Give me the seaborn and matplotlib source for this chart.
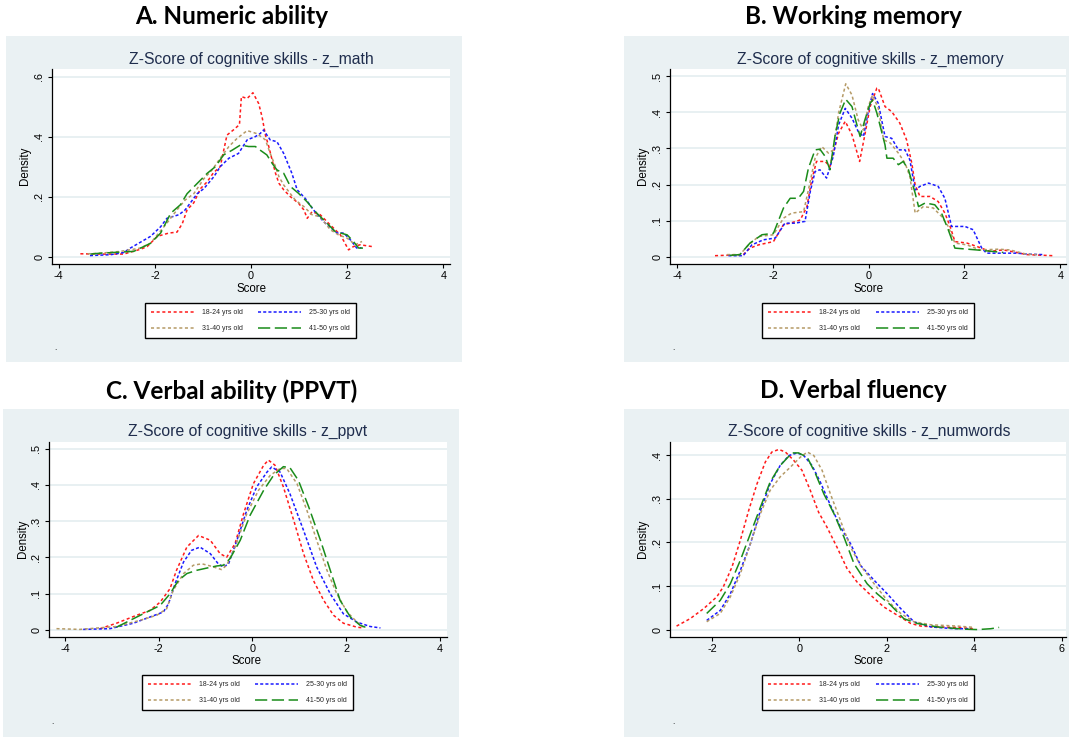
import numpy as np
import pandas as pd
import matplotlib
matplotlib.use("Agg")
import matplotlib.pyplot as plt
from matplotlib.patches import Rectangle
from matplotlib.lines import Line2D
import seaborn as sns

W, H = 1069, 737

groups = ["18-24 yrs old", "25-30 yrs old", "31-40 yrs old", "41-50 yrs old"]
panel_titles = ["A. Numeric ability", "B. Working memory",
                "C. Verbal ability (PPVT)", "D. Verbal fluency"]
inner_titles = ["Z-Score of cognitive skills - z_math",
                "Z-Score of cognitive skills - z_memory",
                "Z-Score of cognitive skills - z_ppvt",
                "Z-Score of cognitive skills - z_numwords"]
x_label = "Score"
y_label = "Density"

# ---------------- Panel A : z_math ----------------
A_x_1824 = [-3.55,-3.13,-2.65,-2.30,-2.16,-1.95,-1.71,-1.54,-1.43,-1.33,-1.19,-1.05,-0.91,-0.78,-0.64,-0.50,-0.36,-0.24,-0.20,-0.08,0.04,0.16,0.23,0.30,0.37,0.44,0.51,0.58,0.68,0.82,0.99,1.10,1.17,1.27,1.44,1.58,1.72,1.86,2.03,2.13,2.27,2.52]
A_y_1824 = [0.010,0.009,0.009,0.025,0.034,0.068,0.079,0.082,0.110,0.156,0.180,0.227,0.250,0.280,0.300,0.405,0.423,0.440,0.533,0.527,0.546,0.510,0.466,0.405,0.367,0.322,0.278,0.245,0.223,0.200,0.178,0.156,0.128,0.150,0.140,0.117,0.095,0.073,0.023,0.034,0.040,0.034]
A_x_2530 = [-3.35,-2.92,-2.65,-2.51,-2.09,-1.88,-1.75,-1.50,-1.37,-1.12,-0.98,-0.77,-0.64,-0.46,-0.26,-0.08,0.09,0.19,0.26,0.40,0.54,0.68,0.85,0.96,1.13,1.30,1.51,1.79,1.93,2.07,2.20,2.30]
A_y_2530 = [0.004,0.007,0.014,0.029,0.068,0.100,0.128,0.140,0.156,0.210,0.227,0.267,0.300,0.328,0.344,0.389,0.400,0.410,0.422,0.389,0.383,0.344,0.278,0.223,0.194,0.156,0.117,0.079,0.079,0.056,0.029,0.030]
A_x_3140 = [-3.40,-3.13,-2.72,-2.30,-2.09,-1.92,-1.75,-1.54,-1.37,-1.19,-0.98,-0.81,-0.64,-0.46,-0.29,-0.08,0.12,0.30,0.40,0.51,0.58,0.68,0.92,1.10,1.27,1.44,1.65,1.82,2.00,2.17,2.31]
A_y_3140 = [0.010,0.012,0.018,0.029,0.045,0.079,0.112,0.156,0.189,0.210,0.260,0.289,0.328,0.367,0.394,0.420,0.410,0.389,0.344,0.300,0.267,0.239,0.189,0.167,0.140,0.133,0.090,0.073,0.062,0.040,0.051]
A_x_4150 = [-3.34,-3.13,-2.44,-2.09,-1.88,-1.67,-1.47,-1.33,-1.12,-0.91,-0.74,-0.57,-0.39,-0.22,-0.05,0.09,0.19,0.33,0.44,0.54,0.68,0.82,0.99,1.16,1.37,1.58,1.75,2.00,2.13,2.24,2.35]
A_y_4150 = [0.009,0.012,0.018,0.045,0.079,0.145,0.173,0.210,0.244,0.278,0.300,0.339,0.355,0.372,0.367,0.367,0.355,0.339,0.311,0.289,0.278,0.234,0.211,0.184,0.145,0.112,0.084,0.073,0.051,0.029,0.029]

# ---------------- Panel B : z_memory ----------------
B_x_1824 = [-3.21,-2.62,-2.48,-2.30,-1.99,-1.78,-1.64,-1.43,-1.29,-1.19,-1.09,-0.91,-0.81,-0.74,-0.63,-0.49,-0.35,-0.19,-0.08,0.03,0.17,0.20,0.34,0.48,0.65,0.79,0.90,0.97,1.07,1.28,1.45,1.59,1.70,1.80,2.05,2.25,2.53,2.81,3.09,3.30,3.85]
B_y_1824 = [0.003,0.006,0.024,0.033,0.042,0.089,0.093,0.102,0.139,0.213,0.264,0.264,0.250,0.287,0.342,0.375,0.338,0.264,0.338,0.416,0.467,0.467,0.416,0.402,0.370,0.324,0.259,0.199,0.167,0.167,0.153,0.121,0.084,0.042,0.038,0.029,0.015,0.019,0.012,0.006,0.003]
B_x_2530 = [-2.93,-2.62,-2.44,-2.20,-1.95,-1.75,-1.54,-1.33,-1.22,-1.12,-1.02,-0.88,-0.74,-0.63,-0.49,-0.35,-0.22,-0.11,-0.01,0.08,0.20,0.34,0.48,0.62,0.76,0.86,0.97,1.07,1.25,1.45,1.59,1.73,2.01,2.18,2.36,2.46,2.81,3.09,3.37,3.65]
B_y_2530 = [0.003,0.003,0.033,0.047,0.052,0.093,0.093,0.098,0.181,0.236,0.241,0.218,0.278,0.365,0.411,0.384,0.347,0.333,0.402,0.452,0.425,0.333,0.328,0.296,0.296,0.268,0.185,0.195,0.204,0.195,0.162,0.084,0.084,0.075,0.024,0.010,0.010,0.010,0.007,0.006]
B_x_3140 = [-2.96,-2.69,-2.51,-2.30,-1.99,-1.78,-1.61,-1.36,-1.26,-1.12,-0.98,-0.84,-0.74,-0.63,-0.48,-0.35,-0.22,-0.11,-0.01,0.08,0.20,0.31,0.45,0.62,0.76,0.86,0.97,1.14,1.35,1.52,1.66,1.80,2.05,2.32,2.71,2.95,3.30,3.51]
B_y_3140 = [0.006,0.006,0.033,0.056,0.061,0.107,0.121,0.125,0.185,0.273,0.305,0.287,0.296,0.398,0.479,0.448,0.379,0.351,0.416,0.448,0.411,0.324,0.315,0.287,0.259,0.222,0.121,0.139,0.135,0.112,0.084,0.038,0.033,0.019,0.021,0.019,0.007,0.006]
B_x_4150 = [-2.90,-2.69,-2.48,-2.23,-1.99,-1.78,-1.64,-1.47,-1.36,-1.26,-1.12,-1.02,-0.91,-0.81,-0.70,-0.60,-0.48,-0.35,-0.18,-0.08,0.03,0.08,0.17,0.34,0.38,0.51,0.62,0.72,0.83,0.97,1.04,1.18,1.38,1.52,1.66,1.80,2.25,2.81]
B_y_4150 = [0.004,0.006,0.038,0.061,0.065,0.135,0.162,0.162,0.181,0.245,0.296,0.298,0.278,0.241,0.338,0.398,0.436,0.416,0.333,0.379,0.425,0.434,0.398,0.310,0.273,0.273,0.255,0.264,0.241,0.176,0.139,0.149,0.144,0.121,0.075,0.024,0.019,0.012]

# ---------------- Panel C : z_ppvt ----------------
C_x_1824 = [-3.25,-2.90,-2.47,-2.19,-1.97,-1.76,-1.62,-1.40,-1.15,-0.90,-0.69,-0.55,-0.37,-0.19,0.02,0.24,0.34,0.48,0.66,0.88,1.09,1.30,1.52,1.73,1.94,2.23,2.37]
C_y_1824 = [0.003,0.018,0.040,0.053,0.076,0.113,0.164,0.228,0.260,0.247,0.210,0.200,0.238,0.320,0.403,0.454,0.468,0.454,0.394,0.302,0.210,0.136,0.081,0.040,0.018,0.007,0.005]
C_x_2530 = [-3.61,-3.04,-2.54,-2.19,-1.90,-1.79,-1.65,-1.47,-1.30,-1.12,-0.90,-0.73,-0.62,-0.51,-0.33,-0.12,0.09,0.31,0.41,0.59,0.80,1.09,1.37,1.66,1.94,2.23,2.51,2.73]
C_y_2530 = [0.001,0.003,0.018,0.035,0.049,0.072,0.127,0.187,0.219,0.228,0.210,0.182,0.173,0.182,0.247,0.330,0.394,0.435,0.449,0.435,0.375,0.274,0.173,0.099,0.044,0.021,0.009,0.005]
C_x_3140 = [-4.18,-3.68,-2.90,-2.40,-2.04,-1.83,-1.69,-1.47,-1.26,-1.08,-0.87,-0.66,-0.55,-0.37,-0.12,0.13,0.38,0.59,0.73,0.95,1.16,1.37,1.59,1.80,2.02,2.23,2.37]
C_y_3140 = [0.003,0.001,0.009,0.026,0.040,0.058,0.109,0.155,0.178,0.182,0.175,0.166,0.178,0.228,0.320,0.385,0.426,0.445,0.445,0.403,0.330,0.247,0.164,0.099,0.049,0.021,0.007]
C_x_4150 = [-2.90,-2.47,-1.97,-1.76,-1.58,-1.40,-1.19,-0.98,-0.76,-0.62,-0.48,-0.26,-0.05,0.24,0.45,0.66,0.80,0.98,1.20,1.45,1.66,1.87,2.09,2.30,2.41]
C_y_4150 = [0.007,0.035,0.067,0.099,0.136,0.155,0.164,0.170,0.176,0.178,0.196,0.247,0.316,0.385,0.426,0.450,0.447,0.412,0.339,0.247,0.164,0.081,0.035,0.012,0.007]

# ---------------- Panel D : z_numwords ----------------
D_x_1824 = [-2.81,-2.50,-2.19,-1.89,-1.74,-1.54,-1.35,-1.16,-0.97,-0.78,-0.63,-0.47,-0.32,-0.13,0.06,0.25,0.44,0.63,0.86,1.09,1.32,1.63,1.93,2.24,2.55,2.78,3.16,3.62,4.00]
D_y_1824 = [0.008,0.025,0.048,0.075,0.098,0.144,0.205,0.273,0.334,0.384,0.407,0.413,0.407,0.388,0.365,0.319,0.269,0.235,0.189,0.140,0.109,0.079,0.052,0.033,0.014,0.008,0.006,0.005,0.002]
D_x_2530 = [-2.12,-1.81,-1.58,-1.35,-1.12,-0.89,-0.67,-0.44,-0.24,-0.05,0.10,0.29,0.48,0.71,0.94,1.17,1.40,1.71,2.01,2.32,2.62,3.01,3.54,3.92]
D_y_2530 = [0.021,0.044,0.082,0.136,0.197,0.273,0.334,0.376,0.399,0.405,0.399,0.376,0.338,0.285,0.235,0.197,0.147,0.113,0.082,0.048,0.018,0.006,0.002,0.002]
D_x_3140 = [-2.12,-1.81,-1.58,-1.35,-1.12,-0.89,-0.67,-0.44,-0.21,0.02,0.18,0.33,0.52,0.71,0.94,1.17,1.40,1.71,2.01,2.32,2.62,3.01,3.62,4.00]
D_y_3140 = [0.018,0.037,0.075,0.128,0.197,0.266,0.319,0.350,0.372,0.395,0.407,0.399,0.365,0.311,0.250,0.189,0.147,0.105,0.067,0.037,0.018,0.011,0.008,0.005]
D_x_4150 = [-2.12,-1.81,-1.58,-1.35,-1.12,-0.89,-0.67,-0.44,-0.17,-0.02,0.18,0.37,0.56,0.79,1.02,1.25,1.55,1.78,2.09,2.39,2.70,3.16,3.77,4.08,4.38,4.57]
D_y_4150 = [0.037,0.067,0.105,0.159,0.220,0.281,0.338,0.376,0.405,0.405,0.395,0.357,0.311,0.266,0.212,0.151,0.105,0.082,0.056,0.025,0.014,0.006,0.001,0.000,0.002,0.005]

# ticks
A_xticks = [-4, -2, 0, 2, 4]
A_yticks = [0, 0.2, 0.4, 0.6]
A_yticklabels = ["0", ".2", ".4", ".6"]
B_xticks = [-4, -2, 0, 2, 4]
B_yticks = [0, 0.1, 0.2, 0.3, 0.4, 0.5]
B_yticklabels = ["0", ".1", ".2", ".3", ".4", ".5"]
C_xticks = [-4, -2, 0, 2, 4]
C_yticks = [0, 0.1, 0.2, 0.3, 0.4, 0.5]
C_yticklabels = ["0", ".1", ".2", ".3", ".4", ".5"]
D_xticks = [-2, 0, 2, 4, 6]
D_yticks = [0, 0.1, 0.2, 0.3, 0.4]
D_yticklabels = ["0", ".1", ".2", ".3", ".4"]

# ---------------- styling ----------------
sns.set_theme(style="ticks")
plt.rcParams['font.family'] = ['Liberation Sans', 'DejaVu Sans']

BG = "#eaf1f3"
GRID = "#e4eef0"
TITLE_COL = "#1f2d4d"
palette = {groups[0]: "#ff1a1a", groups[1]: "#1a1aff",
           groups[2]: "#b59a66", groups[3]: "#1a8c1a"}
dash_map = {groups[0]: (2.0, 1.7), groups[1]: (2.0, 1.4),
            groups[2]: (2.0, 1.7), groups[3]: (8.0, 3.0)}
LW = 1.1


def fx(px):
    return px / W


def fy(py):
    return 1 - py / H


def make_df(xs, ys):
    frames = []
    for g, x, y in zip(groups, xs, ys):
        frames.append(pd.DataFrame({"x": x, "y": y, "group": g}))
    return pd.concat(frames, ignore_index=True)


panels = [
    dict(df=make_df([A_x_1824, A_x_2530, A_x_3140, A_x_4150],
                    [A_y_1824, A_y_2530, A_y_3140, A_y_4150]),
         title=panel_titles[0], inner=inner_titles[0], title_xy=(232, 17),
         bg=(6, 36, 462, 362), axes=(52, 69, 450, 264), inner_xy=(251, 59),
         xlim=(-4.14, 4.14), ylim=(-0.024, 0.625),
         xt=A_xticks, yt=A_yticks, ytl=A_yticklabels,
         leg=(250.5, 320.5), xlab=(251, 289), ylab=(25, 166), dot=(55, 349)),
    dict(df=make_df([B_x_1824, B_x_2530, B_x_3140, B_x_4150],
                    [B_y_1824, B_y_2530, B_y_3140, B_y_4150]),
         title=panel_titles[1], inner=inner_titles[1], title_xy=(853, 17),
         bg=(624, 36, 1069, 362), axes=(670, 69, 1066, 264), inner_xy=(870, 59),
         xlim=(-4.15, 4.12), ylim=(-0.02, 0.52),
         xt=B_xticks, yt=B_yticks, ytl=B_yticklabels,
         leg=(868, 320.5), xlab=(869, 289), ylab=(643, 166), dot=(673, 349)),
    dict(df=make_df([C_x_1824, C_x_2530, C_x_3140, C_x_4150],
                    [C_y_1824, C_y_2530, C_y_3140, C_y_4150]),
         title=panel_titles[2], inner=inner_titles[2], title_xy=(232, 391),
         bg=(3, 409, 459, 737), axes=(49, 442, 447, 637), inner_xy=(248, 431),
         xlim=(-4.34, 4.15), ylim=(-0.02, 0.518),
         xt=C_xticks, yt=C_yticks, ytl=C_yticklabels,
         leg=(247.5, 692.5), xlab=(247, 661), ylab=(23, 539), dot=(52, 722)),
    dict(df=make_df([D_x_1824, D_x_2530, D_x_3140, D_x_4150],
                    [D_y_1824, D_y_2530, D_y_3140, D_y_4150]),
         title=panel_titles[3], inner=inner_titles[3], title_xy=(853, 391),
         bg=(624, 409, 1069, 737), axes=(670, 442, 1066, 637), inner_xy=(869, 431),
         xlim=(-2.96, 6.1), ylim=(-0.017, 0.43),
         xt=D_xticks, yt=D_yticks, ytl=D_yticklabels,
         leg=(868, 692.5), xlab=(869, 661), ylab=(643, 539), dot=(673, 722)),
]

fig = plt.figure(figsize=(W / 100, H / 100), dpi=100)
fig.patch.set_facecolor("white")

for p in panels:
    x0, y0, x1, y1 = p["bg"]
    fig.add_artist(Rectangle((fx(x0), fy(y1)), (x1 - x0) / W, (y1 - y0) / H,
                             transform=fig.transFigure, facecolor=BG,
                             edgecolor="none", zorder=0.1))
    l, t, r, b = p["axes"]
    ax = fig.add_axes([fx(l), fy(b), (r - l) / W, (b - t) / H])
    ax.set_zorder(1)
    ax.set_facecolor("white")
    sns.lineplot(data=p["df"], x="x", y="y", hue="group", style="group",
                 hue_order=groups, style_order=groups, palette=palette,
                 dashes=dash_map, estimator=None, sort=False,
                 linewidth=LW, legend=False, ax=ax)
    ax.set_xlim(*p["xlim"])
    ax.set_ylim(*p["ylim"])
    ax.set_xticks(p["xt"])
    ax.set_xticklabels([f"{v:g}" for v in p["xt"]])
    ax.set_yticks(p["yt"])
    ax.set_yticklabels(p["ytl"], rotation=90, va="center")
    ax.set_xlabel("")
    ax.set_ylabel("")
    ax.grid(axis="y", color=GRID, linewidth=1.2)
    ax.set_axisbelow(True)
    for s in ["top", "right"]:
        ax.spines[s].set_visible(False)
    for s in ["left", "bottom"]:
        ax.spines[s].set_color("black")
        ax.spines[s].set_linewidth(0.9)
    ax.tick_params(axis="both", direction="out", length=3, width=0.8,
                   colors="black", labelsize=7.8, pad=2)
    ax.tick_params(axis="y", pad=2.5)

    fig.text(fx(p["title_xy"][0]), fy(p["title_xy"][1]), p["title"],
             ha="center", va="center", fontsize=17.5, fontweight="bold",
             family=["Lato", "DejaVu Sans"], color="black")
    fig.text(fx(p["inner_xy"][0]), fy(p["inner_xy"][1]), p["inner"],
             ha="center", va="center", fontsize=11.3, color=TITLE_COL, zorder=2)
    fig.text(fx(p["xlab"][0]), fy(p["xlab"][1]), x_label, ha="center",
             va="center", fontsize=8.3, color="black", zorder=2)
    fig.text(fx(p["ylab"][0]), fy(p["ylab"][1]), y_label, ha="center",
             va="center", rotation=90, fontsize=8.3, color="black", zorder=2)
    fig.text(fx(p["dot"][0]), fy(p["dot"][1]), ".", ha="center",
             va="center", fontsize=6, color="black", zorder=2)

    order = [groups[0], groups[2], groups[1], groups[3]]
    handles = [Line2D([0], [0], color=palette[g], lw=LW, dashes=dash_map[g])
               for g in order]
    leg = fig.legend(handles, order, loc="center",
                     bbox_to_anchor=(fx(p["leg"][0]), fy(p["leg"][1])),
                     ncol=2, fontsize=5, frameon=True, fancybox=False,
                     edgecolor="black", framealpha=1, facecolor="white",
                     handlelength=6.2, handletextpad=1.15, columnspacing=2.3,
                     labelspacing=1.3, borderpad=0.8)
    leg.get_frame().set_linewidth(1.0)
    leg.set_zorder(3)

fig.savefig("out.png", dpi=100, facecolor="white")
